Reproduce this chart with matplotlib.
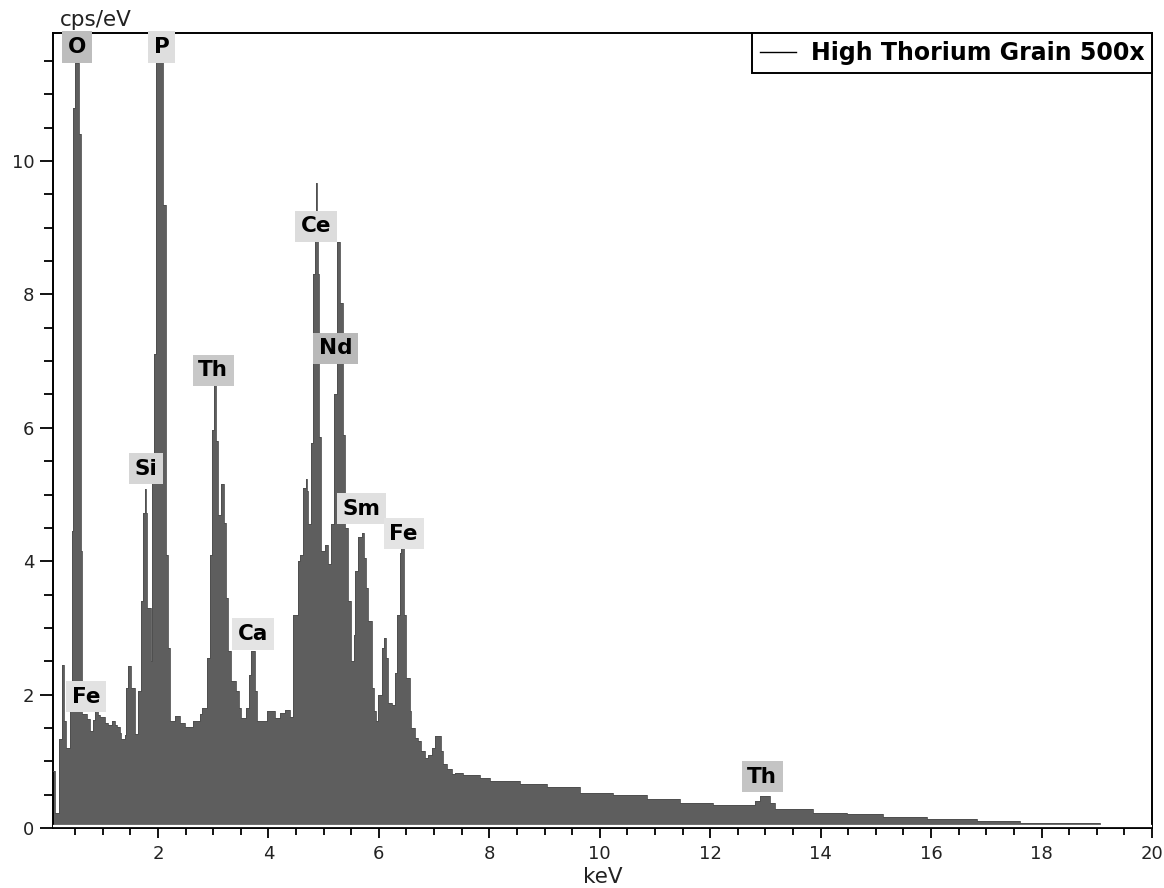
import matplotlib
matplotlib.use("Agg")
import matplotlib.pyplot as plt
from matplotlib.ticker import MultipleLocator, FixedLocator

# ---- data: EDS spectrum (channel start energy, counts) ----
energy_keV = [
    0.10, 0.13, 0.20, 0.27, 0.30, 0.34, 0.40, 0.435, 0.465, 0.496, 0.569, 0.60,
    0.62, 0.71, 0.77, 0.83, 0.86, 0.92, 0.95, 1.04, 1.10, 1.16, 1.22, 1.25,
    1.31, 1.34, 1.40, 1.43, 1.46, 1.52, 1.58, 1.64, 1.69, 1.73, 1.76, 1.78,
    1.81, 1.868, 1.885, 1.925, 1.96, 2.095, 2.145, 2.175, 2.215, 2.25, 2.31, 2.40,
    2.49, 2.63, 2.76, 2.80, 2.89, 2.94, 2.98, 3.01, 3.06, 3.09, 3.14, 3.20,
    3.24, 3.27, 3.33, 3.42, 3.46, 3.51, 3.60, 3.64, 3.68, 3.76, 3.80, 3.97,
    4.12, 4.21, 4.30, 4.39, 4.45, 4.53, 4.57, 4.63, 4.68, 4.70, 4.72, 4.77,
    4.81, 4.84, 4.86, 4.88, 4.90, 4.92, 4.95, 5.02, 5.08, 5.14, 5.19, 5.235,
    5.30, 5.35, 5.39, 5.44, 5.49, 5.55, 5.57, 5.63, 5.69, 5.73, 5.77, 5.80,
    5.87, 5.91, 5.94, 5.99, 6.05, 6.09, 6.13, 6.17, 6.23, 6.29, 6.33, 6.38,
    6.41, 6.46, 6.50, 6.56, 6.59, 6.65, 6.71, 6.77, 6.83, 6.89, 6.96, 7.02,
    7.12, 7.17, 7.23, 7.32, 7.38, 7.53, 7.83, 8.01, 8.55, 9.04, 9.64, 10.24,
    10.85, 11.45, 12.05, 12.81, 12.90, 13.08, 13.17, 13.87, 14.47, 15.13, 15.93, 16.83,
    17.61, 18.75, 19.06, 20.0,
]
cps = [
    0.86, 0.23, 1.33, 2.45, 1.60, 1.20, 1.76, 4.46, 10.8, 11.47, 10.4, 4.16,
    1.71, 1.63, 1.45, 1.62, 1.76, 1.70, 1.66, 1.58, 1.55, 1.61, 1.55, 1.51,
    1.43, 1.34, 1.40, 2.10, 2.43, 2.10, 1.41, 2.05, 3.40, 4.73, 5.09, 4.73,
    3.30, 2.50, 5.27, 7.11, 11.48, 9.34, 4.10, 2.70, 1.60, 1.61, 1.68, 1.57,
    1.52, 1.61, 1.71, 1.80, 2.55, 4.10, 5.96, 6.64, 5.80, 4.70, 5.16, 4.58,
    3.45, 2.65, 2.20, 2.05, 1.80, 1.65, 1.80, 2.30, 2.65, 2.05, 1.60, 1.75,
    1.65, 1.72, 1.77, 1.67, 3.20, 4.00, 4.10, 5.10, 5.24, 5.05, 4.56, 5.77,
    8.30, 9.00, 9.67, 9.00, 8.30, 5.86, 4.16, 4.24, 3.96, 4.56, 6.50, 8.78,
    7.87, 5.90, 4.50, 3.40, 2.50, 2.90, 3.86, 4.36, 4.43, 4.05, 3.60, 3.10,
    2.10, 1.76, 1.61, 2.00, 2.70, 2.85, 2.55, 1.88, 1.84, 2.33, 3.20, 4.13,
    4.20, 3.20, 2.25, 1.76, 1.50, 1.35, 1.30, 1.16, 1.05, 1.10, 1.20, 1.38,
    1.16, 0.96, 0.88, 0.81, 0.83, 0.80, 0.75, 0.70, 0.66, 0.61, 0.53, 0.50,
    0.44, 0.38, 0.35, 0.40, 0.48, 0.38, 0.28, 0.23, 0.21, 0.17, 0.13, 0.10,
    0.08, 0.07, 0.03, 0.03,
]

# peak identification labels
peak_labels = ["O", "P", "Si", "Th", "Ca", "Ce", "Nd", "Sm", "Fe", "Fe", "Th"]
label_keV   = [0.53, 2.07, 1.78, 3.00, 3.72, 4.86, 5.22, 5.68, 6.45, 0.70, 12.94]
label_cps   = [11.71, 11.71, 5.39, 6.86, 2.91, 9.02, 7.19, 4.79, 4.41, 1.97, 0.77]
label_shade = ["#bdbdbd", "#dedede", "#d6d6d6", "#c8c8c8", "#e4e4e4", "#dcdcdc",
               "#b9b9b9", "#e0e0e0", "#e4e4e4", "#e2e2e2", "#c4c4c4"]

x_ticks = [2, 4, 6, 8, 10, 12, 14, 16, 18, 20]
y_ticks = [0, 2, 4, 6, 8, 10]
series_name = "High Thorium Grain 500x"

plt.rcParams['font.family'] = ['DejaVu Sans']

fig = plt.figure(figsize=(11.64, 8.88), dpi=100)
ax = fig.add_axes([53 / 1164, 1 - 828 / 888, (1152 - 53) / 1164, (828 - 33) / 888])

ax.fill_between(energy_keV, cps, 0, step='post', color='#5e5e5e', linewidth=0, zorder=2)
ax.step(energy_keV, cps, where='post', color='#4d4d4d', linewidth=0.6, zorder=3)
ax.axhline(0.028, color='white', linewidth=1.6, zorder=4)

# legend handle (line only)
ax.plot([], [], color='black', linewidth=1.0, label=series_name)
leg = ax.legend(loc='upper right', borderaxespad=0, frameon=True, fancybox=False,
                framealpha=1, edgecolor='black', handlelength=1.55, handletextpad=0.6,
                borderpad=0.33, prop={'weight': 'bold', 'size': 17})
leg.get_frame().set_linewidth(1.4)

for lab, xk, yc, sh in zip(peak_labels, label_keV, label_cps, label_shade):
    ax.text(xk, yc, lab, ha='center', va='center', fontsize=15.5, fontweight='bold',
            color='black', zorder=6,
            bbox=dict(boxstyle='square,pad=0.26', fc=sh, ec='none'))

ax.set_xlim(0.1, 20)
ax.set_ylim(0, 11.92)
ax.xaxis.set_major_locator(FixedLocator(x_ticks))
ax.yaxis.set_major_locator(FixedLocator(y_ticks))
ax.xaxis.set_minor_locator(MultipleLocator(0.5))
ax.yaxis.set_minor_locator(MultipleLocator(0.5))
ax.tick_params(axis='both', which='major', labelsize=13, width=1.3, color='black',
               labelcolor='#222222')
ax.tick_params(axis='y', which='major', length=9.5, pad=4)
ax.tick_params(axis='y', which='minor', length=6.5, width=1.3)
ax.tick_params(axis='x', which='major', length=7.5, pad=5)
ax.tick_params(axis='x', which='minor', length=5, width=1.3)
for sp in ax.spines.values():
    sp.set_linewidth(1.4)
    sp.set_color('black')

fig.text(60 / 1164, 1 - 20 / 888, "cps/eV", fontsize=15.5, ha='left', va='center', color='#222222')
fig.text((53 + 1152) / 2 / 1164, 1 - 877 / 888, "keV", fontsize=15.5, ha='center', va='center', color='#222222')

fig.savefig("out.png", dpi=100)
